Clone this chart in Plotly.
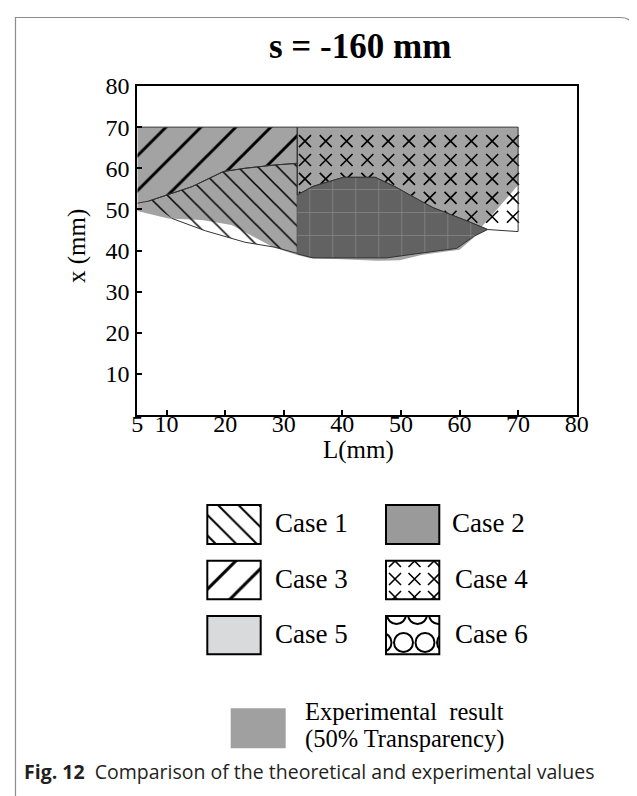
import numpy as np
import plotly.graph_objects as go

# ---------------- data (mm) ----------------
# Experimental result region (50% transparency grey)
exp_x = [5.0, 70.0, 70.0, 63.8, 62.4, 60.0, 56.7, 53.5, 49.8, 46.0, 40.0, 34.5, 32.3, 28.3, 21.1, 16.0, 10.3, 5.0]
exp_y = [70.0, 70.0, 55.9, 45.8, 43.1, 40.2, 39.6, 38.9, 37.6, 37.5, 37.9, 38.1, 38.9, 40.7, 46.2, 47.4, 47.8, 49.6]

# Case 3 region
case3_x = [5.0, 32.3, 32.3, 28.5, 23.4, 19.7, 14.3, 8.0, 6.9, 5.0]
case3_y = [70.0, 70.0, 61.2, 60.8, 60.0, 59.2, 55.5, 52.5, 52.0, 51.5]

# Case 1 region
case1_x = [6.9, 8.0, 14.3, 19.7, 23.4, 28.5, 32.3, 32.3, 28.5, 23.4, 16.6, 10.9]
case1_y = [52.0, 52.5, 55.5, 59.2, 60.0, 60.8, 61.2, 39.3, 40.8, 42.0, 44.8, 47.8]

# Case 2 region (upper and lower boundaries)
case2_top_x = [32.3, 35.0, 40.2, 45.6, 49.0, 53.3, 55.5, 60.9, 64.8]
case2_top_y = [53.5, 55.6, 57.8, 57.8, 55.5, 52.0, 50.4, 47.4, 45.1]
case2_bot_x = [62.4, 59.5, 56.7, 53.3, 47.5, 35.0, 32.3]
case2_bot_y = [43.4, 40.5, 40.0, 39.3, 38.2, 38.2, 39.2]

# Case 4 region: top-right corner points, then down to case 2 upper boundary
case4_corner_x = [32.3, 70.0, 70.0]
case4_corner_y = [70.0, 70.0, 44.6]

# axis ticks
x_ticks = [5, 10, 20, 30, 40, 50, 60, 70, 80]
y_ticks = [10, 20, 30, 40, 50, 60, 70, 80]
X_RANGE = [5, 80]
Y_RANGE = [0, 80]

legend_labels = ["Case 1", "Case 2", "Case 3", "Case 4", "Case 5", "Case 6"]
title_text = "s = -160 mm"
caption_text = "<b>Fig. 12</b>\u00a0 Comparison of the theoretical and experimental values"

# ---------------- layout / styles ----------------
W, H = 637, 796
OFF = 8.0                                     # page body margin
PL, PR, PT, PB = 137.3, 576.7, 86.0, 415.0   # plot area in screen pixels
SERIF = "Liberation Serif, Times New Roman, serif"
EDGE = "#333333"
EXP_GREY = "#a3a3a3"
CASE2_DARK = "#626262"

px_per_x = (PR - PL) / (X_RANGE[1] - X_RANGE[0])
px_per_y = (PB - PT) / (Y_RANGE[1] - Y_RANGE[0])


def dom_x(a, b):
    return [(a - OFF) / W, (b - OFF) / W]


def dom_y(top, bottom):
    return [1 - (bottom - OFF) / H, 1 - (top - OFF) / H]


# X-mark texture grid for case 4 (pattern spacing)
X4_COL0, X4_DX, X4_NCOL = 33.62, 3.55, 11
X4_ROW0, X4_DY, X4_NROW = 66.6, 4.6, 6
X4_HALF_PX = 6.0


def inside(px, py, vx, vy):
    vx = np.asarray(vx); vy = np.asarray(vy)
    n = len(vx)
    res = np.zeros(np.shape(px), dtype=bool)
    j = n - 1
    for i in range(n):
        xi, yi, xj, yj = vx[i], vy[i], vx[j], vy[j]
        cond = ((yi > py) != (yj > py)) & (px < (xj - xi) * (py - yi) / (yj - yi + 1e-12) + xi)
        res ^= cond
        j = i
    return res


case2_x = case2_top_x + case2_bot_x
case2_y = case2_top_y + case2_bot_y
case4_x = case4_corner_x + case2_top_x[::-1]
case4_y = case4_corner_y + case2_top_y[::-1]
union_x = case4_corner_x + case2_bot_x
union_y = case4_corner_y + case2_bot_y

gx, gy = np.meshgrid(X4_COL0 + X4_DX * np.arange(X4_NCOL), X4_ROW0 - X4_DY * np.arange(X4_NROW))
gx = gx.ravel(); gy = gy.ravel()
dxu = X4_HALF_PX / px_per_x
dyu = X4_HALF_PX / px_per_y
hit = inside(gx, gy, case4_x, case4_y)
for sx in (-1, 1):
    for sy in (-1, 1):
        hit |= inside(gx + sx * dxu, gy + sy * dyu, case4_x, case4_y)
hit &= inside(gx, gy, union_x, union_y)
mx, my = gx[hit], gy[hit]

fig = go.Figure()

# experimental grey
fig.add_trace(go.Scatter(x=exp_x, y=exp_y, fill="toself", mode="lines",
                         fillcolor=EXP_GREY, line=dict(width=0), hoverinfo="skip"))
# case 3
fig.add_trace(go.Scatter(x=case3_x, y=case3_y, fill="toself", mode="lines",
                         fillcolor="rgba(0,0,0,0)",
                         fillpattern=dict(shape="/", size=24.7, solidity=0.12, fgcolor="black",
                                          bgcolor="rgba(0,0,0,0)", fillmode="replace"),
                         line=dict(color=EDGE, width=1), hoverinfo="skip"))
# case 1
fig.add_trace(go.Scatter(x=case1_x, y=case1_y, fill="toself", mode="lines",
                         fillcolor="rgba(0,0,0,0)",
                         fillpattern=dict(shape="\\", size=14, solidity=0.11, fgcolor="black",
                                          bgcolor="rgba(0,0,0,0)", fillmode="replace"),
                         line=dict(color=EDGE, width=1), hoverinfo="skip"))
# case 4 texture and outline
fig.add_trace(go.Scatter(x=mx, y=my, mode="markers",
                         marker=dict(symbol="x-thin", size=12, color="black",
                                     line=dict(color="black", width=1.6)),
                         hoverinfo="skip"))
fig.add_trace(go.Scatter(x=case4_x + [case4_x[0]], y=case4_y + [case4_y[0]], mode="lines",
                         line=dict(color=EDGE, width=1), hoverinfo="skip"))
# case 2
fig.add_trace(go.Scatter(x=case2_x, y=case2_y, fill="toself", mode="lines",
                         fillcolor=CASE2_DARK,
                         fillpattern=dict(shape="+", size=23, solidity=0.06, fgcolor="#8a8a8a",
                                          bgcolor=CASE2_DARK, fillmode="replace"),
                         line=dict(color=EDGE, width=1), hoverinfo="skip"))

# ---------------- legend (pixel overlay axes, screen coordinates) ----------------
def box_xy(b):
    x0, y0, x1, y1 = b
    return [x0, x1, x1, x0, x0], [y0, y0, y1, y1, y0]

SW = {
    "Case 1": (207.3, 505.0, 260.7, 544.0),
    "Case 2": (386.0, 505.0, 439.3, 544.0),
    "Case 3": (207.3, 560.7, 260.7, 599.3),
    "Case 4": (386.0, 560.7, 439.3, 599.3),
    "Case 5": (207.3, 616.0, 260.7, 654.3),
    "Case 6": (386.0, 616.0, 439.3, 654.3),
}
EXP_BOX = (230.7, 708.3, 285.7, 748.3)

bx, by = box_xy(SW["Case 1"])
fig.add_trace(go.Scatter(x=bx, y=by, xaxis="x2", yaxis="y2", fill="toself", mode="lines",
                         fillcolor="white",
                         fillpattern=dict(shape="\\", size=14.5, solidity=0.14, fgcolor="black",
                                          bgcolor="white", fillmode="replace"),
                         line=dict(width=0), hoverinfo="skip"))
bx, by = box_xy(SW["Case 2"])
fig.add_trace(go.Scatter(x=bx, y=by, xaxis="x2", yaxis="y2", fill="toself", mode="lines",
                         fillcolor="#9a9a9a", line=dict(width=0), hoverinfo="skip"))
bx, by = box_xy(SW["Case 3"])
fig.add_trace(go.Scatter(x=bx, y=by, xaxis="x2", yaxis="y2", fill="toself", mode="lines",
                         fillcolor="white",
                         fillpattern=dict(shape="/", size=23, solidity=0.13, fgcolor="black",
                                          bgcolor="white", fillmode="replace"),
                         line=dict(width=0), hoverinfo="skip"))
bx, by = box_xy(SW["Case 5"])
fig.add_trace(go.Scatter(x=bx, y=by, xaxis="x2", yaxis="y2", fill="toself", mode="lines",
                         fillcolor="#d9dadb", line=dict(width=0), hoverinfo="skip"))
bx, by = box_xy(EXP_BOX)
fig.add_trace(go.Scatter(x=bx, y=by, xaxis="x2", yaxis="y2", fill="toself", mode="lines",
                         fillcolor="#a0a0a0", line=dict(width=0), hoverinfo="skip"))

# Case 4 swatch marks (clipped by its own small axes)
c4x = [395.0, 414.5, 434.0]
c4y = [561.0, 579.0, 597.0]
g4x, g4y = np.meshgrid(c4x, c4y)
fig.add_trace(go.Scatter(x=g4x.ravel(), y=g4y.ravel(), xaxis="x3", yaxis="y3", mode="markers",
                         marker=dict(symbol="x-thin", size=12, color="black",
                                     line=dict(color="black", width=1.6)), hoverinfo="skip"))
# Case 6 swatch circles
c6x = [396.5, 417.5, 438.5, 382.0, 403.5, 425.0, 446.5]
c6y = [614.5, 614.5, 614.5, 642.5, 642.5, 642.5, 642.5]
fig.add_trace(go.Scatter(x=c6x, y=c6y, xaxis="x4", yaxis="y4", mode="markers",
                         marker=dict(symbol="circle-open", size=19, color="black",
                                     line=dict(color="black", width=2)), hoverinfo="skip"))

shapes = []
for lab in legend_labels:
    x0, y0, x1, y1 = SW[lab]
    shapes.append(dict(type="rect", xref="x2", yref="y2", x0=x0, y0=y0, x1=x1, y1=y1,
                       line=dict(color="black", width=2), fillcolor="rgba(0,0,0,0)", layer="above"))
# outer figure frame
shapes.append(dict(type="path", xref="x2", yref="y2",
                   path="M 15.5,800 L 15.5,17.5 L 620,17.5 Q 634,17.5 634,31",
                   line=dict(color="#8c8c8c", width=1.2), layer="above"))

ann = []
label_pos = {"Case 1": (273.3, 523), "Case 2": (450.0, 523), "Case 3": (273.3, 579),
             "Case 4": (453.3, 579), "Case 5": (273.3, 634), "Case 6": (453.3, 634)}
for lab in legend_labels:
    x, y = label_pos[lab]
    ann.append(dict(x=x, y=y, xref="x2", yref="y2", text=lab, showarrow=False,
                    xanchor="left", yanchor="middle", font=dict(family=SERIF, size=27, color="black")))
ann.append(dict(x=303.3, y=711.5, xref="x2", yref="y2", text="Experimental\u00a0 result", showarrow=False,
                xanchor="left", yanchor="middle", font=dict(family=SERIF, size=24.5, color="black")))
ann.append(dict(x=303.3, y=739.0, xref="x2", yref="y2", text="(50% Transparency)", showarrow=False,
                xanchor="left", yanchor="middle", font=dict(family=SERIF, size=24.5, color="black")))
ann.append(dict(x=360, y=46, xref="x2", yref="y2", text="<b>" + title_text + "</b>", showarrow=False,
                xanchor="center", yanchor="middle", font=dict(family=SERIF, size=35, color="black")))
ann.append(dict(x=358, y=450, xref="x2", yref="y2", text="L(mm)", showarrow=False,
                xanchor="center", yanchor="middle", font=dict(family=SERIF, size=25, color="black")))
ann.append(dict(x=77, y=246, xref="x2", yref="y2", text="x (mm)", showarrow=False, textangle=-90,
                xanchor="center", yanchor="middle", font=dict(family=SERIF, size=25, color="black")))
ann.append(dict(x=22, y=771, xref="x2", yref="y2", text=caption_text, showarrow=False,
                xanchor="left", yanchor="middle", font=dict(family="Open Sans, sans-serif", size=19.5, color="#231f20")))

axis_common = dict(showgrid=False, zeroline=False, showline=True, linecolor="black", linewidth=2,
                   mirror=True, ticks="inside", ticklen=5, tickwidth=1.5, tickcolor="black",
                   tickfont=dict(family=SERIF, size=24, color="black"), fixedrange=True,
                   automargin=False)

hidden = dict(visible=False, showgrid=False, zeroline=False, fixedrange=True, automargin=False)

fig.update_layout(
    template="none",
    width=W, height=H, autosize=False,
    margin=dict(l=0, r=0, t=0, b=0, pad=0),
    paper_bgcolor="white", plot_bgcolor="rgba(0,0,0,0)",
    showlegend=False,
    xaxis=dict(domain=dom_x(PL, PR), range=X_RANGE, tickvals=x_ticks,
               ticktext=[str(v) for v in x_ticks], anchor="y", ticklabelstandoff=-14, **axis_common),
    yaxis=dict(domain=dom_y(PT, PB), range=Y_RANGE, tickvals=y_ticks,
               ticktext=[str(v) for v in y_ticks], anchor="x", ticklabelstandoff=1, **axis_common),
    xaxis2=dict(domain=[0, 1], range=[OFF, W + OFF], anchor="y2", **hidden),
    yaxis2=dict(domain=[0, 1], range=[H + OFF, OFF], anchor="x2", **hidden),
    xaxis3=dict(domain=dom_x(SW["Case 4"][0], SW["Case 4"][2]),
                range=[SW["Case 4"][0], SW["Case 4"][2]], anchor="y3", **hidden),
    yaxis3=dict(domain=dom_y(SW["Case 4"][1], SW["Case 4"][3]),
                range=[SW["Case 4"][3], SW["Case 4"][1]], anchor="x3", **hidden),
    xaxis4=dict(domain=dom_x(SW["Case 6"][0], SW["Case 6"][2]),
                range=[SW["Case 6"][0], SW["Case 6"][2]], anchor="y4", **hidden),
    yaxis4=dict(domain=dom_y(SW["Case 6"][1], SW["Case 6"][3]),
                range=[SW["Case 6"][3], SW["Case 6"][1]], anchor="x4", **hidden),
    shapes=shapes,
    annotations=ann,
)

fig.write_html("out.html")
